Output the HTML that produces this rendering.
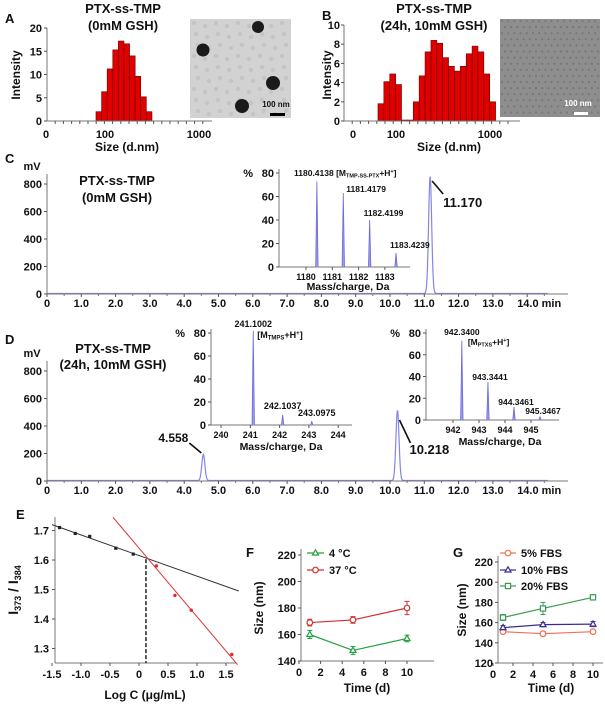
<!DOCTYPE html>
<html><head><meta charset="utf-8">
<style>
html,body{margin:0;padding:0;background:#fff;}
svg{display:block;font-family:"Liberation Sans",Arial,sans-serif;font-weight:bold;}
</style></head>
<body>
<svg id="fig" width="605" height="706" viewBox="0 0 605 706" xmlns="http://www.w3.org/2000/svg"></svg>
<script>
// ---------- DATA ----------
const aSizes=[85.9,98.5,113,129.6,148.6,170.5,195.5,224,257,295];
const aIntensity=[2,6.3,11.2,15.3,17.2,16.6,14,9.6,5.2,2];
const aYTicks=[0,5,10,15,20];
const bSizes=[69.1,79.8,92.2,106.5,123,142,164,189.5,219,253,292,337,389,450,520,600,693,800,924,1067];
const bIntensity=[1.8,4.1,4.9,3.8,0.1,0.1,2,4.7,7.2,8.4,8.1,6.6,5.7,5.2,5.7,7,7.8,7.2,4.9,2];
const bYTicks=[0,2,4,6,8,10];
const chromXTicks=[0,1,2,3,4,5,6,7,8,9,10,11,12,13,14];
const chromXLabels=["0","1.0","2.0","3.0","4.0","5.0","6.0","7.0","8.0","9.0","10.0","11.0","12.0","13.0","14.0 min"];
const chromYTicks=[0,200,400,600,800];
const cPeakTimes=[11.17];
const cPeakHeights=[850];
const dPeakTimes=[4.558,10.218];
const dPeakHeights=[190,510];
const msYTicks=[0,20,40,60,80];
const c1Mz=[1180.4138,1181.4179,1182.4199,1183.4239];
const c1Abund=[73,63,40,12];
const c1Ticks=[1180,1181,1182,1183];
const d1Mz=[241.1002,242.1037,243.0975];
const d1Abund=[82,9,3];
const d1Ticks=[240,241,242,243,244];
const d2Mz=[942.34,943.3441,944.3461,945.3467];
const d2Abund=[73,35,12,3];
const d2Ticks=[942,943,944,945];
const eBlackX=[-1.37,-1.1,-0.85,-0.4,-0.1];
const eBlackY=[1.71,1.69,1.68,1.64,1.62];
const eRedX=[0.3,0.62,0.9,1.6];
const eRedY=[1.58,1.48,1.43,1.28];
const eBlackLine=[[-1.5,1.72],[1.72,1.495]];
const eRedLine=[[-0.45,1.745],[1.7,1.245]];
const eCross=[0.12,1.603];
const eXTicks=[-1.5,-1.0,-0.5,0,0.5,1.0,1.5];
const eXLabels=["-1.5","-1.0","-0.5","0","0.5","1.0","1.5"];
const eYTicks=[1.3,1.4,1.5,1.6,1.7];
const fTime=[1,5,10];
const f4C=[160,148,157];
const f4Err=[3,3,2.5];
const f37C=[169,171,180];
const f37Err=[2.5,2.5,5];
const fYTicks=[140,160,180,200,220];
const fXTicks=[0,2,4,6,8,10];
const gTime=[1,5,10];
const g5=[151,149,151];
const g5Err=[1.5,2,2];
const g10=[155,158,158.5];
const g10Err=[2,2,2.5];
const g20=[165,174,185];
const g20Err=[3,6,2.5];
const gYTicks=[120,140,160,180,200,220];
const gXTicks=[0,2,4,6,8,10];

// ---------- HELPERS ----------
const NS='http://www.w3.org/2000/svg';
const svg=document.getElementById('fig');
function mk(tag,attrs,parent){const e=document.createElementNS(NS,tag);for(const k in attrs)e.setAttribute(k,attrs[k]);(parent||svg).appendChild(e);return e;}
function grp(name){const g=mk('g',{});


return g;}
function txt(p,x,y,s,size,anchor,name,extra){const t=mk('text',Object.assign({x:x,y:y,'font-size':size,'text-anchor':anchor||'start',fill:'#111'},extra||{}),p);t.textContent=s;


return t;}
function line(p,x1,y1,x2,y2,st,w,name,dash){const l=mk('line',{x1:x1,y1:y1,x2:x2,y2:y2,stroke:st||'#333','stroke-width':w||1},p);if(dash)l.setAttribute('stroke-dasharray',dash);


return l;}

// ---------- PANEL A ----------
(function(){
const g=grp('panel-a');
const xA=s=>105+94*Math.log10(s/100), yA=v=>121-v*(93/20);
const f=1.147, r=Math.sqrt(f);
aSizes.forEach((s,i)=>{const x0=xA(s/r),x1=xA(s*r);const b=mk('rect',{x:x0,y:yA(aIntensity[i]),width:x1-x0,height:yA(0)-yA(aIntensity[i]),fill:'#e00000',stroke:'#600',"stroke-width":0.6},g);

});
line(g,47,28,47,121,'#777',1,'y-axis-a');line(g,47,121,212,121,'#777',1,'x-axis-a');
aYTicks.forEach(v=>{line(g,44,yA(v),47,yA(v),'#555',1,'y-tick-a');txt(g,42,yA(v)+4,String(v),11,'end','y-tick-label-a');});
for(let i=1;i<20;i++){const x=47+i*8.2;if(x<211)line(g,x,121,x,124,'#555',1,'x-minor-tick-a');}
txt(g,46,138,'0',11,'middle','x-tick-label-a');txt(g,xA(100),138,'100',11,'middle','x-tick-label-a');txt(g,xA(1000),138,'1000',11,'middle','x-tick-label-a');
txt(g,5,23,'A',13,'start','panel-label-a');
txt(g,123,13,'PTX-ss-TMP',13,'middle','title-a');txt(g,123,30,'(0mM GSH)',13,'middle','subtitle-a');
txt(g,20,75,'Intensity',12,'middle','y-axis-title-a',{transform:'rotate(-90 20 75)'});
txt(g,127,151,'Size (d.nm)',12,'middle','x-axis-title-a');
const im=grp('tem-image-a');g.appendChild(im);
mk('rect',{x:190,y:19,width:101,height:99,fill:'#d2d2d2'},im);
for(let i=0;i<9;i++)for(let j=0;j<9;j++){mk('circle',{cx:194+i*11+(j%3)*2,cy:23+j*11+(i%2)*3,r:2.2,fill:'#c4c4c4'},im);}
[[258,27,6],[203,50,6.5],[273,83,7],[242,106,7]].forEach(c=>{mk('circle',{cx:c[0],cy:c[1],r:c[2],fill:'#1a1a1a'},im);});
txt(im,276,107,'100 nm',8,'middle','scale-bar-label-a');
mk('rect',{x:270,y:113,width:15,height:3,fill:'#000'},im);
})();

// ---------- PANEL B ----------
(function(){
const g=grp('panel-b');
const xB=s=>396+94*Math.log10(s/100), yB=v=>121-v*9.6;
const f=1.155, r=Math.sqrt(f);
bSizes.forEach((s,i)=>{const x0=xB(s/r),x1=xB(s*r);const b=mk('rect',{x:x0,y:yB(bIntensity[i]),width:x1-x0,height:yB(0)-yB(bIntensity[i]),fill:'#e00000',stroke:'#600',"stroke-width":0.6},g);

});
line(g,344,25,344,121,'#777',1,'y-axis-b');line(g,344,121,520,121,'#777',1,'x-axis-b');
bYTicks.forEach(v=>{line(g,341,yB(v),344,yB(v),'#555',1,'y-tick-b');txt(g,340,yB(v)+4,String(v),11,'end','y-tick-label-b');});
for(let i=1;i<21;i++){const x=344+i*8.2;if(x<519)line(g,x,121,x,124,'#555',1,'x-minor-tick-b');}
txt(g,353,138,'0',11,'middle','x-tick-label-b');txt(g,xB(100),138,'100',11,'middle','x-tick-label-b');txt(g,xB(1000),138,'1000',11,'middle','x-tick-label-b');
txt(g,322,20,'B',13,'start','panel-label-b');
txt(g,434,13,'PTX-ss-TMP',13,'middle','title-b');txt(g,434,30,'(24h, 10mM GSH)',13,'middle','subtitle-b');
txt(g,331,75,'Intensity',12,'middle','y-axis-title-b',{transform:'rotate(-90 331 75)'});
txt(g,449,151,'Size (d.nm)',12,'middle','x-axis-title-b');
const im=grp('tem-image-b');g.appendChild(im);
mk('rect',{x:500,y:19,width:100,height:98,fill:'#8e8e8e'},im);
for(let i=0;i<16;i++)for(let j=0;j<16;j++){mk('circle',{cx:502+i*6.2+((j%2)*3),cy:21+j*6.1,r:1,fill:'#757575'},im);}
txt(im,578,106,'100 nm',8,'middle','scale-bar-label-b',{fill:'#fff'});
mk('rect',{x:574,y:112,width:14,height:3,fill:'#fff'},im);
})();

// ---------- CHROMATOGRAM HELPER ----------
function chrom(g,y0,times,heights,tag){
const xT=t=>47+34.3*t, yV=v=>y0-v*(110/800);
let d='';
for(let t=0;t<=14.6;t+=0.01){let v=4;times.forEach((c,i)=>{v+=heights[i]*Math.exp(-Math.pow((t-c)/0.045,2)/2);});d+=(d?'L':'M')+xT(t).toFixed(2)+','+yV(v).toFixed(2);}
const p=mk('path',{d:d,fill:'none',stroke:'#8585e6','stroke-width':1.2},g);


line(g,47,y0-120,47,y0,'#777',1,'y-axis-'+tag);line(g,47,y0,568,y0,'#777',1,'x-axis-'+tag);
chromYTicks.forEach(v=>{line(g,44,yV(v),47,yV(v),'#555',1,'y-tick-'+tag);txt(g,42,yV(v)+4,String(v),11,'end','y-tick-label-'+tag);});
chromXTicks.forEach((t,i)=>{line(g,xT(t),y0,xT(t),y0+3,'#555',1,'x-tick-'+tag);const lab=chromXLabels[i];const anchor=lab.indexOf('min')>0?'start':'middle';txt(g,anchor==='start'?xT(t)-10:xT(t),y0+13,lab,11,anchor,'x-tick-label-'+tag);});
for(let t=0.5;t<14.6;t+=1)line(g,xT(t),y0,xT(t),y0+2,'#777',1,'x-minor-tick-'+tag);
txt(g,32,y0-124,'mV',11,'middle','y-unit-'+tag);
return {xT,yV};
}
function ms(g,ax,top,bot,xEnd,x0,ppu,ticks,mz,ab,tag){
const xM=m=>x0+(m-ticks[0])*ppu, yM=v=>bot-(v/80)*(bot-top);
line(g,ax,top-4,ax,bot,'#777',1,'ms-y-axis-'+tag);line(g,ax,bot,xEnd,bot,'#777',1,'ms-x-axis-'+tag);
msYTicks.forEach(v=>{line(g,ax-3,yM(v),ax,yM(v),'#555',1,'ms-y-tick-'+tag);txt(g,ax-5,yM(v)+4,String(v),11,'end','ms-y-tick-label-'+tag);});
ticks.forEach(m=>{line(g,xM(m),bot,xM(m),bot+3,'#555',1,'ms-x-tick-'+tag);txt(g,xM(m),bot+13,String(m),9,'middle','ms-x-tick-label-'+tag);});
mz.forEach((m,i)=>{const p=mk('path',{d:'M'+(xM(m)-1.2)+','+bot+' L'+xM(m)+','+yM(ab[i])+' L'+(xM(m)+1.2)+','+bot,fill:'#9a9af0',stroke:'#6a6ad8','stroke-width':0.8},g);

});
txt(g,ax-26,top+4,'%',11,'end','ms-y-unit-'+tag);
return {xM,yM};
}

// ---------- PANEL C ----------
(function(){
const g=grp('panel-c');
const s=chrom(g,294,cPeakTimes,cPeakHeights,'c');
txt(g,5,163,'C',13,'start','panel-label-c');
txt(g,117,185,'PTX-ss-TMP',13,'middle','title-c');txt(g,117,202,'(0mM GSH)',13,'middle','subtitle-c');
line(g,s.xT(cPeakTimes[0])+2,181,s.xT(cPeakTimes[0])+13,194,'#111',1.6,'peak-pointer-c');
txt(g,s.xT(cPeakTimes[0])+13,207,'11.170',13,'start','peak-label-c');
const m=ms(g,279,173,267,410,306,26.3,c1Ticks,c1Mz,c1Abund,'c');
txt(g,294,176,'1180.4138 [M',8.5,'start','ms-label-c-0');
const t=txt(g,346,176,'',8.5,'start','ms-label-c-0-formula');t.innerHTML='<tspan font-size="5.5" dy="1.5">TMP-SS-PTX</tspan><tspan dy="-1.5">+H</tspan><tspan font-size="5.5" dy="-3">+</tspan><tspan dy="3">]</tspan>';
txt(g,m.xM(c1Mz[1])+3,192,'1181.4179',8.5,'start','ms-label-c-1');
txt(g,m.xM(c1Mz[2])-6,216,'1182.4199',8.5,'start','ms-label-c-2');
txt(g,m.xM(c1Mz[3])-6,248,'1183.4239',8.5,'start','ms-label-c-3');
txt(g,348,290,'Mass/charge, Da',10.5,'middle','ms-x-title-c');
})();

// ---------- PANEL D ----------
(function(){
const g=grp('panel-d');
const s=chrom(g,481,dPeakTimes,dPeakHeights,'d');
txt(g,5,344,'D',13,'start','panel-label-d');
txt(g,113,353,'PTX-ss-TMP',13,'middle','title-d');txt(g,113,369,'(24h, 10mM GSH)',13,'middle','subtitle-d');
const x1=s.xT(dPeakTimes[0]);line(g,x1-14,443,x1-2,453,'#111',1.6,'peak-pointer-d-1');txt(g,x1-30,442,'4.558',12,'middle','peak-label-d-1');
const x2=s.xT(dPeakTimes[1]);line(g,x2+2,420,x2+13,443,'#111',1.6,'peak-pointer-d-2');txt(g,x2+12,454,'10.218',13,'start','peak-label-d-2');
const m1=ms(g,211,333,425,352,221,29.3,d1Ticks,d1Mz,d1Abund,'d1');
txt(g,m1.xM(d1Mz[0]),327,'241.1002',9,'middle','ms-label-d1-0');
const t1=txt(g,m1.xM(d1Mz[0])+4,338,'',9,'start','ms-label-d1-formula');t1.innerHTML='[M<tspan font-size="6" dy="1.5">TMPS</tspan><tspan dy="-1.5">+H</tspan><tspan font-size="6" dy="-3">+</tspan><tspan dy="3">]</tspan>';
txt(g,m1.xM(d1Mz[1]),409,'242.1037',9,'middle','ms-label-d1-1');
txt(g,m1.xM(d1Mz[2])+5,416,'243.0975',9,'middle','ms-label-d1-2');
txt(g,281,450,'Mass/charge, Da',10.5,'middle','ms-x-title-d1');
const m2=ms(g,426,333,420,559,453,26,d2Ticks,d2Mz,d2Abund,'d2');
txt(g,m2.xM(d2Mz[0]),335,'942.3400',8.5,'middle','ms-label-d2-0');
const t2=txt(g,m2.xM(d2Mz[0])+6,345,'',8.5,'start','ms-label-d2-formula');t2.innerHTML='[M<tspan font-size="5.5" dy="1.5">PTXS</tspan><tspan dy="-1.5">+H</tspan><tspan font-size="5.5" dy="-3">+</tspan><tspan dy="3">]</tspan>';
txt(g,m2.xM(d2Mz[1])+2,380,'943.3441',8.5,'middle','ms-label-d2-1');
txt(g,m2.xM(d2Mz[2])+2,405,'944.3461',8.5,'middle','ms-label-d2-2');
txt(g,m2.xM(d2Mz[3])+3,414,'945.3467',8.5,'middle','ms-label-d2-3');
txt(g,500,445,'Mass/charge, Da',10.5,'middle','ms-x-title-d2');
})();

// ---------- PANEL E ----------
(function(){
const g=grp('panel-e');
const xE=v=>139+58*v, yE=v=>560-(v-1.6)*295;
line(g,55,517,55,663,'#777',1,'y-axis-e');line(g,55,663,236,663,'#777',1,'x-axis-e');
eYTicks.forEach(v=>{line(g,52,yE(v),55,yE(v),'#555',1,'y-tick-e');txt(g,49,yE(v)+4,v.toFixed(1),11,'end','y-tick-label-e');});
eXTicks.forEach((v,i)=>{line(g,xE(v),663,xE(v),666,'#555',1,'x-tick-e');txt(g,xE(v),678,eXLabels[i],11,'middle','x-tick-label-e');});
line(g,xE(eBlackLine[0][0]),yE(eBlackLine[0][1]),xE(eBlackLine[1][0]),yE(eBlackLine[1][1]),'#333',1,'fit-line-black');
line(g,xE(eRedLine[0][0]),yE(eRedLine[0][1]),xE(eRedLine[1][0]),yE(eRedLine[1][1]),'#d33',1,'fit-line-red');
line(g,xE(eCross[0]),yE(eCross[1]),xE(eCross[0]),663,'#111',1.4,'cmc-dashed-line','4,2');
eBlackX.forEach((x,i)=>{const r=mk('rect',{x:xE(x)-1.6,y:yE(eBlackY[i])-1.6,width:3.2,height:3.2,fill:'#222'},g);

});
eRedX.forEach((x,i)=>{const r=mk('circle',{cx:xE(x),cy:yE(eRedY[i]),r:1.7,fill:'#e22'},g);

});
txt(g,16,519,'E',13,'start','panel-label-e');
const yt=txt(g,18,590,'',14,'middle','y-axis-title-e',{transform:'rotate(-90 18 590)'});yt.innerHTML='I<tspan font-size="9" dy="3">373</tspan><tspan dy="-3"> / I</tspan><tspan font-size="9" dy="3">384</tspan>';
txt(g,145,699,'Log C (μg/mL)',12,'middle','x-axis-title-e');
})();

// ---------- LINE PANEL HELPER ----------
function marker(g,shape,x,y,col,name){let e;
if(shape==='tri')e=mk('path',{d:`M${x},${y-3.2} L${x+3},${y+2} L${x-3},${y+2} Z`,fill:'#fff',stroke:col,'stroke-width':1.2},g);
else if(shape==='sq')e=mk('rect',{x:x-2.6,y:y-2.6,width:5.2,height:5.2,fill:'#fff',stroke:col,'stroke-width':1.2},g);
else e=mk('circle',{cx:x,cy:y,r:2.8,fill:'#fff',stroke:col,'stroke-width':1.2},g);

}
function series(g,xs,ys,errs,xF,yF,col,shape,tag){
let d='';xs.forEach((x,i)=>{d+=(i?'L':'M')+xF(x)+','+yF(ys[i]);});
const p=mk('path',{d:d,fill:'none',stroke:col,'stroke-width':1.2},g);


xs.forEach((x,i)=>{const X=xF(x),a=yF(ys[i]+errs[i]),b=yF(ys[i]-errs[i]);line(g,X,a,X,b,col,1,'error-bar-'+tag);line(g,X-2.5,a,X+2.5,a,col,1,'error-cap-'+tag);line(g,X-2.5,b,X+2.5,b,col,1,'error-cap-'+tag);marker(g,shape,X,yF(ys[i]),col,'point-'+tag+'-'+i);});
}

// ---------- PANEL F ----------
(function(){
const g=grp('panel-f');
const xF=t=>299+10.8*t, yF=v=>661-(v-140)*(106/80);
line(g,301,549,301,661,'#777',1,'y-axis-f');line(g,301,661,434,661,'#777',1,'x-axis-f');
fYTicks.forEach(v=>{line(g,298,yF(v),301,yF(v),'#555',1,'y-tick-f');txt(g,296,yF(v)+4,String(v),11,'end','y-tick-label-f');});
fXTicks.forEach(t=>{line(g,xF(t),661,xF(t),664,'#555',1,'x-tick-f');txt(g,xF(t),676,String(t),11,'middle','x-tick-label-f');});
series(g,fTime,f4C,f4Err,xF,yF,'#22a040','tri','4c');
series(g,fTime,f37C,f37Err,xF,yF,'#d03030','circ','37c');
txt(g,246,557,'F',13,'start','panel-label-f');
const l1=grp('legend-entry-4c');g.appendChild(l1);line(l1,307,553,324,553,'#22a040',1.2,'legend-line');marker(l1,'tri',315.5,553,'#22a040','legend-marker-4c');txt(l1,329,557,'4 °C',11,'start','legend-label-4c');
const l2=grp('legend-entry-37c');g.appendChild(l2);line(l2,307,570,324,570,'#d03030',1.2,'legend-line');marker(l2,'circ',315.5,570,'#d03030','legend-marker-37c');txt(l2,329,574,'37 °C',11,'start','legend-label-37c');
txt(g,263,608,'Size (nm)',12,'middle','y-axis-title-f',{transform:'rotate(-90 263 608)'});
txt(g,367,692,'Time (d)',12,'middle','x-axis-title-f');
})();

// ---------- PANEL G ----------
(function(){
const g=grp('panel-g');
const xG=t=>493+10*t, yG=v=>663-(v-120)*(101/100);
line(g,498,556,498,663,'#777',1,'y-axis-g');line(g,498,663,603,663,'#777',1,'x-axis-g');
gYTicks.forEach(v=>{line(g,495,yG(v),498,yG(v),'#555',1,'y-tick-g');txt(g,493,yG(v)+4,String(v),11,'end','y-tick-label-g');});
gXTicks.forEach(t=>{line(g,xG(t),663,xG(t),666,'#555',1,'x-tick-g');txt(g,xG(t),678,String(t),11,'middle','x-tick-label-g');});
series(g,gTime,g5,g5Err,xG,yG,'#f07050','circ','5fbs');
series(g,gTime,g10,g10Err,xG,yG,'#3a2c8c','tri','10fbs');
series(g,gTime,g20,g20Err,xG,yG,'#3a9a50','sq','20fbs');
txt(g,453,557,'G',13,'start','panel-label-g');
const leg=[['5% FBS','#f07050','circ',553],['10% FBS','#3a2c8c','tri',570],['20% FBS','#3a9a50','sq',586]];
leg.forEach((L,i)=>{const e=grp('legend-entry-g-'+i);g.appendChild(e);line(e,500,L[3],516,L[3],L[1],1.2,'legend-line');marker(e,L[2],508,L[3],L[1],'legend-marker-g-'+i);txt(e,521,L[3]+4,L[0],11,'start','legend-label-g-'+i);});
txt(g,466,610,'Size (nm)',12,'middle','y-axis-title-g',{transform:'rotate(-90 466 610)'});
txt(g,551,692,'Time (d)',12,'middle','x-axis-title-g');
})();
</script>
</body></html>
